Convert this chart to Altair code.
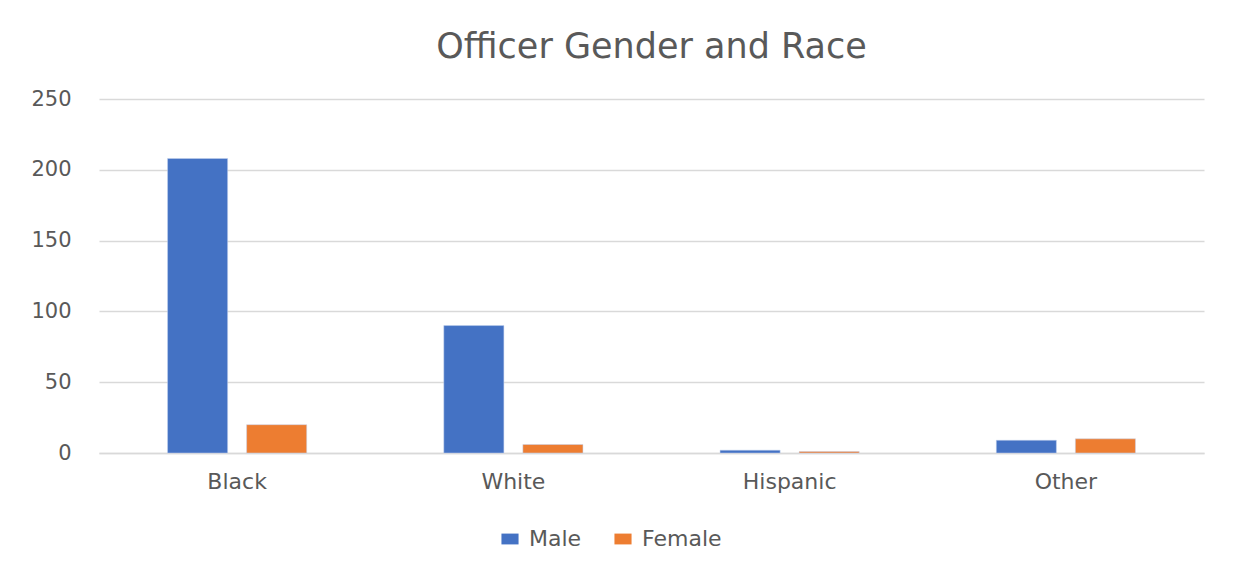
import altair as alt
import pandas as pd

races = ["Black", "White", "Hispanic", "Other"]
genders = ["Male", "Female"]
male_counts = [208, 90, 2, 9]
female_counts = [20, 6, 1, 10]

rows = []
for r, m, f in zip(races, male_counts, female_counts):
    rows.append({"Race": r, "Gender": "Male", "Count": m})
    rows.append({"Race": r, "Gender": "Female", "Count": f})
df = pd.DataFrame(rows)

FONT = "DejaVu Sans"
TXT = "#595959"

chart = alt.Chart(df).mark_bar(stroke="#c5d3ee", strokeWidth=0.5).encode(
    x=alt.X("Race:N", sort=races, title=None,
            scale=alt.Scale(paddingInner=0, paddingOuter=0),
            axis=alt.Axis(labelAngle=0, domain=True, domainColor="#d9d9d9", domainWidth=1.5,
                          ticks=False, labelPadding=18, labelFontSize=22,
                          labelColor=TXT, labelFont=FONT)),
    xOffset=alt.XOffset("Gender:N", sort=genders,
                        scale=alt.Scale(paddingInner=0.24, paddingOuter=0.867)),
    y=alt.Y("Count:Q", title=None,
            scale=alt.Scale(domain=[0, 250], nice=False),
            axis=alt.Axis(values=[0, 50, 100, 150, 200, 250], domain=False, ticks=False,
                          labelPadding=28, labelFontSize=21, labelColor=TXT, labelFont=FONT,
                          gridColor="#d9d9d9", gridWidth=1.5)),
    color=alt.Color("Gender:N", sort=genders,
                    scale=alt.Scale(domain=genders, range=["#4472C4", "#ED7D31"]),
                    legend=alt.Legend(title=None, orient="none", direction="horizontal",
                                      legendX=400, legendY=429,
                                      symbolType="M-1.5,-0.95L1.5,-0.95L1.5,0.95L-1.5,0.95Z",
                                      symbolSize=130, symbolStrokeWidth=0,
                                      labelFontSize=22, labelColor=TXT, labelFont=FONT,
                                      labelOffset=8, columnPadding=30)),
).properties(
    width=1105,
    height=354,
    title=alt.TitleParams("Officer Gender and Race", fontSize=35, font=FONT,
                          fontWeight="normal", color=TXT, anchor="middle", offset=23),
    padding={"left": 22, "top": 22, "right": 28, "bottom": 10},
).configure_view(stroke=None)

chart.save("out.html", embed_options={"renderer": "svg", "actions": False})
